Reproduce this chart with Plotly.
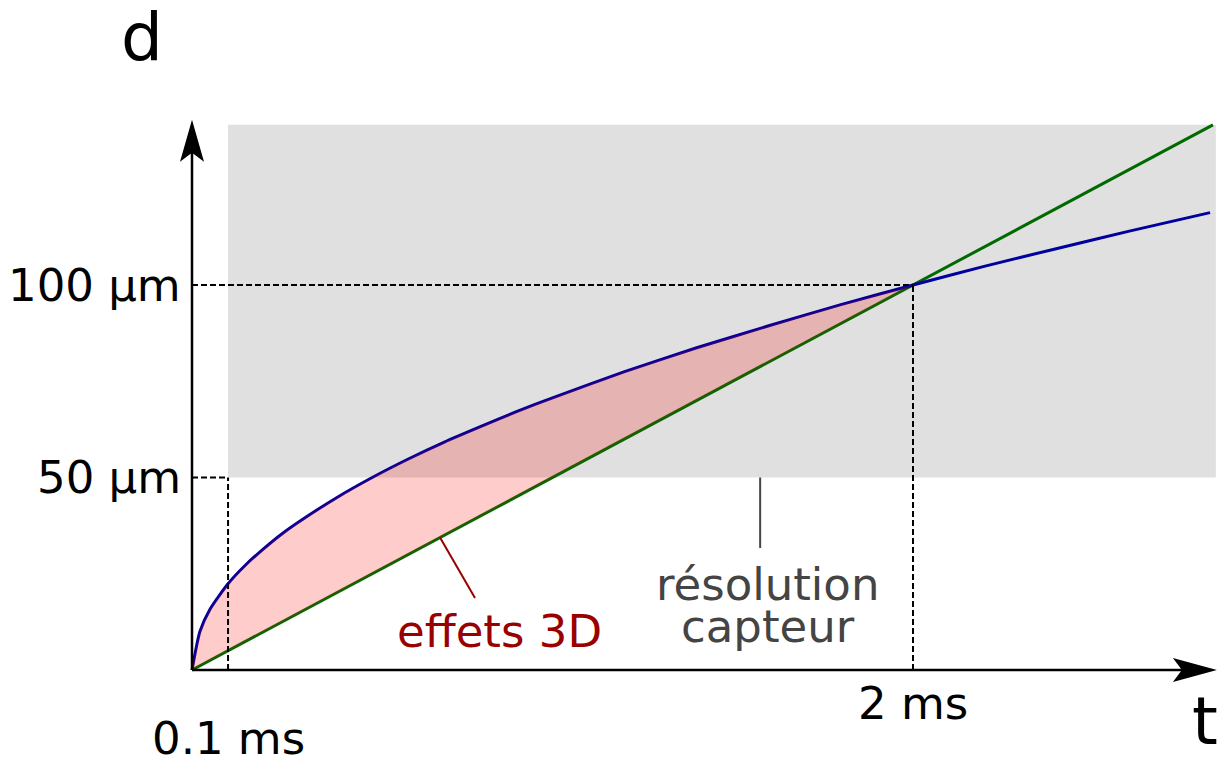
import plotly.graph_objects as go

# values (t in ms, d in µm)
t_blue = [0, 0.022, 0.05, 0.1, 0.15, 0.2, 0.25, 0.3, 0.4, 0.5, 0.6, 0.7, 0.8, 0.9, 1.0, 1.2, 1.4,
          1.6, 1.8, 2.0, 2.2, 2.4, 2.6, 2.824]
d_blue = [0, 10.0, 15.8, 22.4, 27.4, 31.6, 35.4, 38.7, 44.7, 50.0, 54.8, 59.2, 63.2, 67.1, 70.7,
          77.5, 83.7, 89.4, 94.9, 100.0, 104.9, 109.5, 114.0, 118.8]
t_green = [0, 2.0, 2.832]
d_green = [0, 100.0, 141.6]

# sensor resolution zone
res_t = [0.1, 2.84]
res_d = [50, 141.6]

tick_d = [100, 50]
tick_d_labels = ["100 µm", "50 µm"]
tick_t = [2, 0.1]
tick_t_labels = ["2 ms", "0.1 ms"]

FONT = "DejaVu Sans"
BLUE = "#00009c"
GREEN = "#006a00"
RED_TXT = "#990000"
GREY_TXT = "#444444"

fig = go.Figure()

fig.add_trace(go.Scatter(x=t_green, y=d_green, mode="lines",
                         line=dict(color=GREEN, width=3), hoverinfo="skip"))
fig.add_trace(go.Scatter(x=t_blue, y=d_blue, mode="lines",
                         line=dict(color=BLUE, width=3, shape="spline", smoothing=0.6),
                         hoverinfo="skip"))

# area between the curves up to the crossing at 2 ms
n = t_blue.index(2.0)
poly_t = t_blue[:n + 1] + t_green[:2][::-1]
poly_d = d_blue[:n + 1] + d_green[:2][::-1]
fig.add_trace(go.Scatter(x=poly_t, y=poly_d, mode="none", fill="toself",
                         fillcolor="rgba(255,0,0,0.2)", hoverinfo="skip"))

shapes = []
# grey zone
shapes.append(dict(type="rect", xref="x", yref="y", x0=res_t[0], x1=res_t[1], y0=res_d[0], y1=res_d[1],
                   fillcolor="#e0e0e0", line=dict(width=0), layer="below"))

# dashed guides
dash = dict(color="black", width=2, dash="6px,3px")
shapes.append(dict(type="line", xref="x", yref="y", x0=0, x1=tick_t[0], y0=tick_d[0], y1=tick_d[0], line=dash))
shapes.append(dict(type="line", xref="x", yref="y", x0=tick_t[0], x1=tick_t[0], y0=0, y1=tick_d[0], line=dash))
shapes.append(dict(type="line", xref="x", yref="y", x0=0, x1=tick_t[1], y0=tick_d[1], y1=tick_d[1], line=dash))
shapes.append(dict(type="line", xref="x", yref="y", x0=tick_t[1], x1=tick_t[1], y0=0, y1=tick_d[1], line=dash))

# axes
shapes.append(dict(type="line", xref="x", yref="y", x0=0, x1=0, y0=0, y1=141, line=dict(color="black", width=2.5)))
shapes.append(dict(type="line", xref="x", yref="y", x0=0, x1=2.8, y0=0, y1=0, line=dict(color="black", width=2.5)))
# arrow heads (pixel sized, anchored at the tip)
shapes.append(dict(type="path", xref="x", yref="y", xsizemode="pixel", ysizemode="pixel",
                   xanchor=0, yanchor=142.9, path="M0,0 L-12,-42 L0,-33 L12,-42 Z",
                   fillcolor="black", line=dict(width=0)))
shapes.append(dict(type="path", xref="x", yref="y", xsizemode="pixel", ysizemode="pixel",
                   xanchor=2.843, yanchor=0, path="M0,0 L-44,12 L-35,0 L-44,-12 Z",
                   fillcolor="black", line=dict(width=0)))

# leader lines
shapes.append(dict(type="line", xref="x", yref="y", x0=0.688, x1=0.785, y0=34.4, y1=18.7,
                   line=dict(color=RED_TXT, width=2)))
shapes.append(dict(type="line", xref="x", yref="y", x0=1.576, x1=1.576, y0=50, y1=31.7,
                   line=dict(color=GREY_TXT, width=2)))

ann = []
for d, lab in zip(tick_d, tick_d_labels):
    ann.append(dict(x=0, y=d, text=lab, xanchor="right", yanchor="middle", xshift=-9,
                    font=dict(size=45, color="black")))
ann.append(dict(x=tick_t[0], y=-8.8, text=tick_t_labels[0], xanchor="center", yanchor="middle",
                font=dict(size=45, color="black")))
ann.append(dict(x=tick_t[1], y=-17.9, text=tick_t_labels[1], xanchor="center", yanchor="middle",
                font=dict(size=45, color="black")))
ann.append(dict(x=-0.139, y=164.2, text="d", xanchor="center", yanchor="middle",
                font=dict(size=66, color="black")))
ann.append(dict(x=2.81, y=-13.5, text="t", xanchor="center", yanchor="middle",
                font=dict(size=66, color="black")))
ann.append(dict(x=0.853, y=9.9, text="effets 3D", xanchor="center", yanchor="middle",
                font=dict(size=45, color=RED_TXT)))
ann.append(dict(x=1.596, y=22.3, text="résolution", xanchor="center", yanchor="middle",
                font=dict(size=45, color=GREY_TXT)))
ann.append(dict(x=1.598, y=11.2, text="capteur", xanchor="center", yanchor="middle",
                font=dict(size=45, color=GREY_TXT)))
for a in ann:
    a.update(xref="x", yref="y", showarrow=False)

fig.update_layout(
    width=1220, height=764,
    margin=dict(l=0, r=0, t=0, b=0),
    paper_bgcolor="white", plot_bgcolor="white",
    showlegend=False,
    font=dict(family=FONT),
    xaxis=dict(range=[-192 / 360.5, 1028 / 360.5], visible=False, fixedrange=True),
    yaxis=dict(range=[-94 / 3.85, 670 / 3.85], visible=False, fixedrange=True),
    shapes=shapes,
    annotations=ann,
)

# page has a default 8px body margin: remove it so the figure fills the window
fig.write_html("out.html", post_script="document.body.style.margin='0px';",
               config={"displayModeBar": False})
